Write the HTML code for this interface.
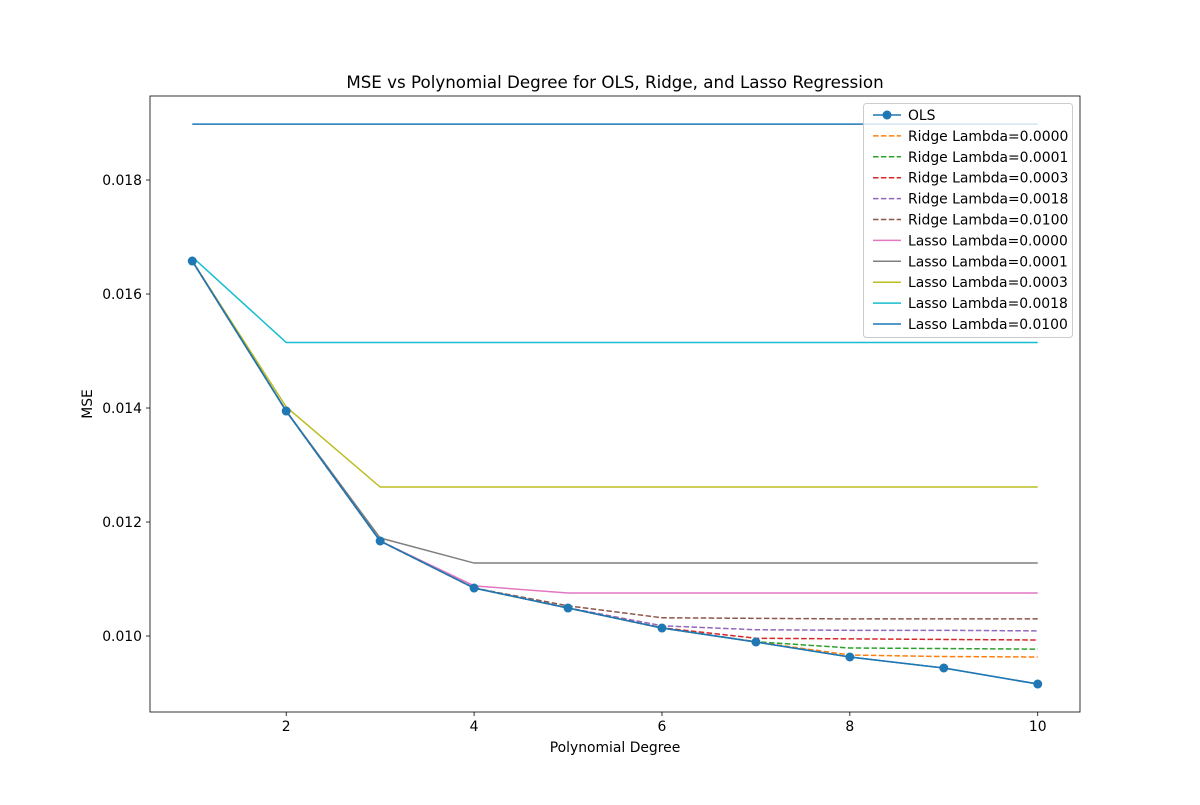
<!DOCTYPE html>
<html><head><meta charset="utf-8"><style>
body{margin:0;background:#fff;}
svg{font-family:"DejaVu Sans","Liberation Sans",sans-serif;}
</style></head><body>
<svg id="chart" width="1200" height="800"></svg>
<script>
const degrees=[1,2,3,4,5,6,7,8,9,10];
const olsValues=[0.016579,0.013947,0.011667,0.010842,0.010491,0.010140,0.009895,0.009632,0.009439,0.009158];
const ridge0=[0.016579,0.013947,0.011667,0.010842,0.010491,0.010140,0.009895,0.009667,0.009640,0.009632];
const ridge1=[0.016579,0.013947,0.011667,0.010842,0.010491,0.010140,0.009900,0.009790,0.009780,0.009770];
const ridge3=[0.016579,0.013947,0.011667,0.010842,0.010491,0.010145,0.009960,0.009950,0.009940,0.009930];
const ridge18=[0.016579,0.013947,0.011667,0.010842,0.010495,0.010180,0.010110,0.010100,0.010100,0.010090];
const ridge100=[0.016579,0.013947,0.011667,0.010842,0.010530,0.010320,0.010310,0.010300,0.010300,0.010300];
const lasso0=[0.016579,0.013947,0.011667,0.010880,0.010754,0.010754,0.010754,0.010754,0.010754,0.010754];
const lasso1=[0.016579,0.013947,0.011720,0.011280,0.011280,0.011280,0.011280,0.011280,0.011280,0.011280];
const lasso3=[0.016579,0.014020,0.012614,0.012614,0.012614,0.012614,0.012614,0.012614,0.012614,0.012614];
const lasso18=[0.016650,0.015150,0.015150,0.015150,0.015150,0.015150,0.015150,0.015150,0.015150,0.015150];
const lasso100=[0.018980,0.018980,0.018980,0.018980,0.018980,0.018980,0.018980,0.018980,0.018980,0.018980];
const xTicks=[2,4,6,8,10];
const yTicks=[0.010,0.012,0.014,0.016,0.018];
const seriesNames=["OLS","Ridge Lambda=0.0000","Ridge Lambda=0.0001","Ridge Lambda=0.0003","Ridge Lambda=0.0018","Ridge Lambda=0.0100","Lasso Lambda=0.0000","Lasso Lambda=0.0001","Lasso Lambda=0.0003","Lasso Lambda=0.0018","Lasso Lambda=0.0100"];
const seriesData=[olsValues,ridge0,ridge1,ridge3,ridge18,ridge100,lasso0,lasso1,lasso3,lasso18,lasso100];
const colors=["#1f77b4","#ff7f0e","#2ca02c","#d62728","#9467bd","#8c564b","#e377c2","#7f7f7f","#bcbd22","#17becf","#1f77b4"];

const L=150,R=1080,T=96,B=712;
const xMin=0.55,xMax=10.45,yMin=0.008667,yMax=0.019474;
const X=v=>L+(v-xMin)/(xMax-xMin)*(R-L);
const Y=v=>B-(v-yMin)/(yMax-yMin)*(B-T);
const svg=document.getElementById('chart');
const NS="http://www.w3.org/2000/svg";
function mk(tag,attrs,parent){const e=document.createElementNS(NS,tag);for(const k in attrs)e.setAttribute(k,attrs[k]);(parent||svg).appendChild(e);return e;}

let t=mk('text',{x:615,y:88,'text-anchor':'middle','font-size':16.7});t.textContent="MSE vs Polynomial Degree for OLS, Ridge, and Lasso Regression";



xTicks.forEach(v=>{
  const g=mk('g',{});
  
  
  mk('line',{x1:X(v),x2:X(v),y1:B,y2:B+4,stroke:'#000','stroke-width':0.8},g);
  const tx=mk('text',{x:X(v),y:B+19,'text-anchor':'middle','font-size':13.9},g);tx.textContent=v;
});
yTicks.forEach(v=>{
  const g=mk('g',{});
  
  
  mk('line',{x1:L-4,x2:L,y1:Y(v),y2:Y(v),stroke:'#000','stroke-width':0.8},g);
  const tx=mk('text',{x:L-8,y:Y(v)+5,'text-anchor':'end','font-size':13.9},g);tx.textContent=v.toFixed(3);
});
t=mk('text',{x:615,y:752,'text-anchor':'middle','font-size':13.9});t.textContent="Polynomial Degree";


t=mk('text',{x:92,y:404,'text-anchor':'middle','font-size':13.9,transform:'rotate(-90 92 404)'});t.textContent="MSE";



for(let i=seriesData.length-1;i>=0;i--){
  const d=seriesData[i];
  const pts=degrees.map((x,j)=>X(x)+','+Y(d[j])).join(' ');
  const dashed=i>=1&&i<=5;
  const pl=mk('polyline',{points:pts,fill:'none',stroke:colors[i],'stroke-width':1.5,'stroke-dasharray':dashed?'5.5,2.4':'none'});
  
  
}
{
  const pl=mk('polyline',{points:degrees.map((x,j)=>X(x)+','+Y(olsValues[j])).join(' '),fill:'none',stroke:colors[0],'stroke-width':1.5});
  
  
  degrees.forEach((x,j)=>{
    const c=mk('circle',{cx:X(x),cy:Y(olsValues[j]),r:4.5,fill:colors[0]});
    
    
  });
}
const fr=mk('rect',{x:L,y:T,width:R-L,height:B-T,fill:'none',stroke:'#000','stroke-width':0.8});



const lg=mk('g',{});


mk('rect',{x:863.5,y:103.5,width:209,height:234,rx:3,fill:'#fff','fill-opacity':0.8,stroke:'#ccc'},lg);
seriesNames.forEach((n,i)=>{
  const y=115+i*20.9;
  const e=mk('g',{},lg);
  
  
  const dashed=i>=1&&i<=5;
  mk('line',{x1:873,x2:901,y1:y,y2:y,stroke:colors[i],'stroke-width':1.5,'stroke-dasharray':dashed?'5.5,2.4':'none'},e);
  if(i===0)mk('circle',{cx:887,cy:y,r:4.5,fill:colors[0]},e);
  const tx=mk('text',{x:908,y:y+5,'font-size':13.9},e);tx.textContent=n;
});
</script>
</body></html>
